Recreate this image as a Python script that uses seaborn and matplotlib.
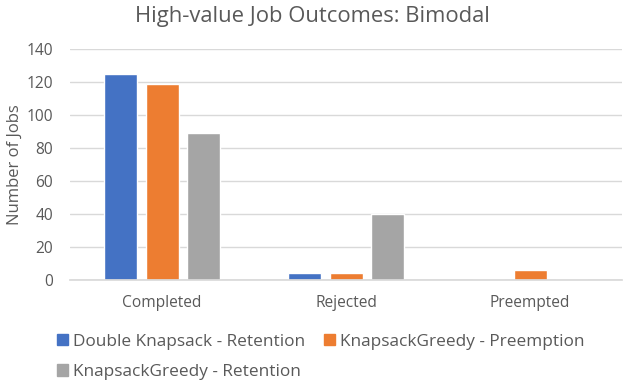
import matplotlib
matplotlib.use("Agg")

import matplotlib.pyplot as plt
import pandas as pd
import seaborn as sns

categories = ["Completed", "Rejected", "Preempted"]
series_names = ["Double Knapsack - Retention", "KnapsackGreedy - Preemption", "KnapsackGreedy - Retention"]
double_knapsack_retention = [125, 4, 0]
greedy_preemption = [119, 4, 6]
greedy_retention = [89, 40, 0]
y_ticks = [0, 20, 40, 60, 80, 100, 120, 140]

colors = ["#4472C4", "#ED7D31", "#A5A5A5"]

df = pd.DataFrame({
    "Outcome": categories * 3,
    "Algorithm": [s for s in series_names for _ in categories],
    "Jobs": double_knapsack_retention + greedy_preemption + greedy_retention,
})

sns.set_theme(style="white")
plt.rcParams["font.family"] = ["Open Sans", "DejaVu Sans"]

fig = plt.figure(figsize=(6.28, 3.9), dpi=100)
ax = fig.add_axes([0.1115, 0.282, 0.879, 0.592])

sns.barplot(data=df, x="Outcome", y="Jobs", hue="Algorithm", palette=colors,
            width=0.677, gap=0.206, ax=ax, legend=False, saturation=1)

ax.set_ylim(0, 140)
ax.set_yticks(y_ticks)
ax.yaxis.grid(True, color="#D9D9D9", linewidth=1)
ax.set_axisbelow(True)
for side in ["top", "right", "left"]:
    ax.spines[side].set_visible(False)
ax.spines["bottom"].set_color("#D9D9D9")
ax.tick_params(axis="both", length=0, labelsize=11.2, labelcolor="#595959")
ax.tick_params(axis="x", pad=11)
ax.tick_params(axis="y", pad=12)
ax.set_xlabel("")
ax.set_ylabel("Number of Jobs", fontsize=12, color="#595959", labelpad=3)
ax.set_xlim(-0.5, 2.5)

fig.suptitle("High-value Job Outcomes: Bimodal", x=0.497, y=0.985, fontsize=15.8, color="#595959")

# row-major legend order: blue, orange on first row, gray on second
order = [0, 2, 1]
handles = [plt.Rectangle((0, 0), 1, 1, color=colors[i]) for i in order]
labels = [series_names[i] for i in order]
fig.legend(handles, labels, loc="center left", bbox_to_anchor=(0.091, 0.085),
           ncol=2, frameon=False, fontsize=12.4, labelcolor="#595959",
           handlelength=0.64, handleheight=0.64, handletextpad=0.3,
           columnspacing=1.05, borderaxespad=0, borderpad=0, labelspacing=0.85)

fig.savefig("out.png", dpi=100)
